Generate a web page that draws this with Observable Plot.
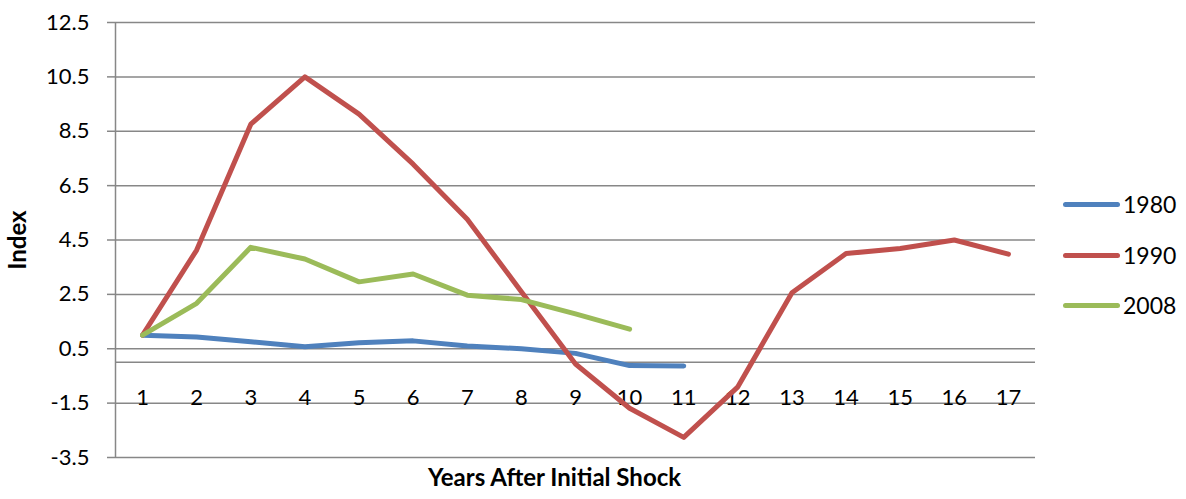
<!DOCTYPE html>
<html>
<head>
<meta charset="utf-8">
<script src="https://cdn.jsdelivr.net/npm/d3@7"></script>
<script src="https://cdn.jsdelivr.net/npm/@observablehq/plot@0.6"></script>
<style>
  body { margin: 0; background: #fff; }
  #chart { position: relative; width: 1186px; height: 499px; font-family: Lato, "Open Sans", sans-serif; }
  #legend { position: absolute; left: 1063px; top: 0; }
  .item { position: absolute; left: 0; display: flex; align-items: center; white-space: nowrap; font-size: 23px; color: #000; }
  .swatch { width: 57px; height: 5px; border-radius: 3px; margin-right: 3px; }
</style>
</head>
<body>
<div id="chart"><div id="legend"></div></div>
<script>
// Years after the initial shock (category axis)
const years = [1, 2, 3, 4, 5, 6, 7, 8, 9, 10, 11, 12, 13, 14, 15, 16, 17];

// Index value of each episode, one entry per year
const v1980 = [1.0, 0.93, 0.76, 0.57, 0.72, 0.79, 0.6, 0.5, 0.33, -0.12, -0.13];
const v1990 = [1.0, 4.13, 8.76, 10.5, 9.13, 7.29, 5.26, 2.6, -0.06, -1.69, -2.76, -0.9, 2.56, 4.0, 4.19, 4.5, 3.98];
const v2008 = [1.0, 2.17, 4.23, 3.8, 2.96, 3.25, 2.47, 2.31, 1.78, 1.22];

const seriesNames = ["1980", "1990", "2008"];
const seriesColors = ["#4F81BD", "#C0504D", "#9BBB59"];
const yTicks = [-3.5, -1.5, 0.5, 2.5, 4.5, 6.5, 8.5, 10.5, 12.5];

const seriesValues = [v1980, v1990, v2008];
const rows = seriesNames.flatMap((name, i) =>
  seriesValues[i].map((value, j) => ({series: name, year: years[j], value}))
);

const xDomain = [years[0] - 0.5, years[years.length - 1] + 0.5];
const gridColor = "#878787";

const plot = Plot.plot({
  width: 1186,
  height: 499,
  marginLeft: 115,
  marginRight: 151,
  marginTop: 22,
  marginBottom: 42,
  style: {fontFamily: "Lato, 'Open Sans', sans-serif", fontSize: "22px", color: "#000", background: "#fff"},
  x: {domain: xDomain, axis: null},
  y: {domain: [yTicks[0], yTicks[yTicks.length - 1]], axis: null},
  color: {domain: seriesNames, range: seriesColors},
  marks: [
    // horizontal gridlines with short outward ticks
    Plot.ruleY(yTicks, {stroke: gridColor, strokeWidth: 1.5}),
    Plot.axisY(yTicks, {
      tickSize: 8, tickPadding: 18, stroke: gridColor, strokeWidth: 1.5,
      fill: "#000", fontSize: 22, tickFormat: d => d.toFixed(1), label: null
    }),
    // vertical value axis and horizontal category axis (at zero)
    Plot.ruleX([xDomain[0]], {stroke: gridColor, strokeWidth: 1.5}),
    Plot.ruleY([0], {stroke: gridColor, strokeWidth: 1.5}),
    // category labels hang below the zero axis
    Plot.text(years, {x: d => d, y: 0, dy: 36, text: d => String(d), fontSize: 22, fill: "#000"}),
    Plot.line(rows, {
      x: "year", y: "value", z: "series", stroke: "series",
      strokeWidth: 5, strokeLinejoin: "round", strokeLinecap: "round"
    }),
    // axis titles
    Plot.text(["Index"], {frameAnchor: "left", rotate: -90, dx: -97, textAnchor: "middle", lineAnchor: "middle",
      fontWeight: "bold", fontSize: 24, fill: "#000"}),
    Plot.text(["Years After Initial Shock"], {frameAnchor: "bottom", dy: 21, dx: -21, textAnchor: "middle", lineAnchor: "middle",
      fontWeight: "bold", fontSize: 24, fill: "#000"})
  ]
});

document.getElementById("chart").prepend(plot);

// legend to the right of the plot area
const legendTops = [204, 255, 305];
const legend = d3.select("#legend");
seriesNames.forEach((name, i) => {
  const item = legend.append("div").attr("class", "item")
    .style("top", (legendTops[i] - 14) + "px").style("height", "28px");
  item.append("div").attr("class", "swatch").style("background", seriesColors[i]);
  item.append("span").text(name);
});
</script>
</body>
</html>
